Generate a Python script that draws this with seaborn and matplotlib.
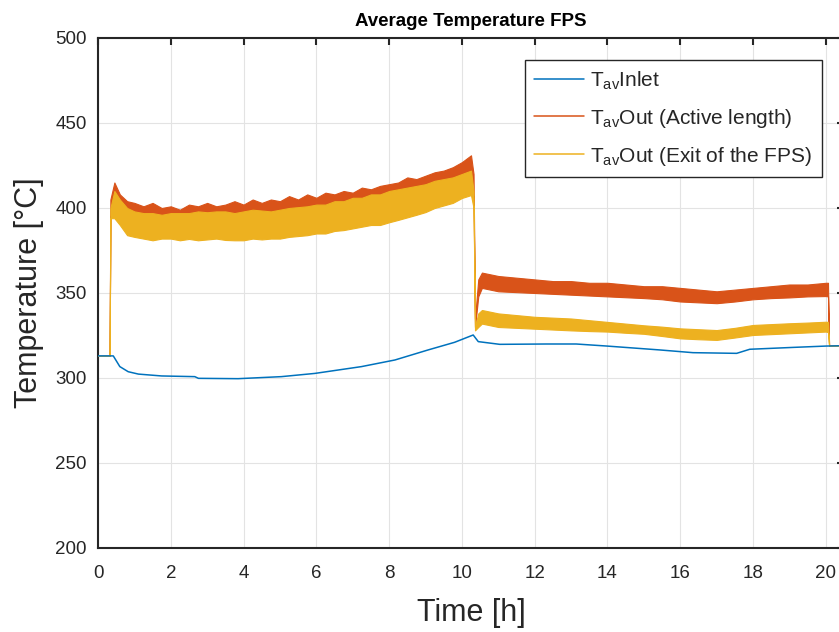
import numpy as np
import pandas as pd
import matplotlib
matplotlib.use("Agg")
import matplotlib.pyplot as plt
from matplotlib.lines import Line2D
import seaborn as sns

# ---------------- data ----------------
t_inlet = [0, 0.42, 0.6, 0.83, 1.11, 1.75, 2.66, 2.76, 3.85, 5.04, 5.96, 7.24, 8.16,
           9.07, 9.8, 10.31, 10.45, 11.04, 12.32, 13.14, 13.98, 15.44, 16.35, 17.55,
           17.91, 19.1, 20.02, 20.5]
T_inlet = [313, 313, 306.7, 303.7, 302.3, 301.2, 300.8, 299.8, 299.6, 300.8, 302.7, 306.7,
           310.6, 316.5, 321.0, 325.3, 321.4, 319.8, 320.0, 320.0, 318.8, 316.5, 314.9,
           314.5, 316.9, 318.0, 318.8, 319.0]

t_out = [0, 0.32, 0.34, 0.45, 0.6, 0.8, 1.0, 1.25, 1.5, 1.75, 2, 2.25, 2.5, 2.75, 3,
         3.25, 3.5, 3.75, 4, 4.25, 4.5, 4.75, 5, 5.25, 5.5, 5.75, 6, 6.25, 6.5, 6.75,
         7, 7.25, 7.5, 7.75, 8, 8.25, 8.5, 8.75, 9, 9.25, 9.5, 9.75, 10, 10.25, 10.32,
         10.36, 10.45, 10.55, 11, 11.5, 12, 12.5, 13, 13.5, 14, 14.5, 15, 15.5, 16,
         16.5, 17, 17.5, 18, 18.5, 19, 19.5, 20, 20.06, 20.09, 20.5]
active_hi = [313, 313, 405, 415, 408, 404, 403, 401, 403, 400, 401, 399, 402, 401, 403,
             401, 402, 404, 402, 405, 403, 405, 404, 407, 405, 408, 406, 409, 408, 410,
             409, 412, 411, 413, 414, 415, 418, 417, 419, 421, 422, 424, 427, 431, 420,
             335, 358, 362, 360, 359, 358, 357, 357, 356, 356, 355, 354, 354, 353, 352,
             351, 352, 353, 354, 355, 355, 356, 356, 319, 319]
active_lo = [313, 313, 395, 400, 398, 394, 392, 391, 391, 391, 391, 391, 391, 391, 391,
             391, 391, 391, 392, 392, 393, 393, 393, 394, 395, 395, 396, 397, 398, 399,
             400, 401, 402, 403, 404, 405, 407, 408, 409, 410, 412, 413, 415, 417, 405,
             330, 348, 353, 351, 350.5, 350, 349.5, 349, 348.5, 348, 347.5, 347, 346.3,
             345, 344.5, 344, 345, 346.3, 347, 347.4, 348, 348.2, 348, 319, 319]
exit_hi = [313, 313, 400, 410, 405, 400, 398, 397, 397, 396, 397, 397, 397, 398, 397.5,
           398, 398, 397, 398, 399, 398.5, 398, 399, 400, 400.5, 401, 402, 402, 404,
           404, 406, 406, 408, 408, 410, 411, 412, 413, 414, 416, 417, 418, 420, 422,
           410, 330, 338, 340, 338, 337, 336, 335.5, 335, 334, 333, 332, 331, 330.2,
           329.2, 328.7, 328.2, 329.5, 331.2, 331.7, 332.2, 332.6, 333.1, 333, 319, 319]
exit_lo = [313, 313, 394, 394, 390, 384, 383, 382, 381, 382, 382, 381, 381.8, 381,
           381.5, 382, 381.2, 381, 381, 382, 381.5, 382, 382, 383, 383.5, 384, 385,
           385, 386.5, 387, 388, 389, 390, 390, 391.6, 393, 394.5, 396, 397.6, 400,
           401.5, 403, 405.9, 407.6, 400, 328, 330, 332, 330, 329.5, 329, 328.5, 328,
           327.6, 327.3, 326.6, 326, 324.7, 323.3, 322.8, 322.4, 323.8, 325.3, 325.8,
           326.3, 326.8, 327.3, 327, 319, 319]

labels = [r"T$_{\mathregular{av}}$Inlet",
          r"T$_{\mathregular{av}}$Out (Active length)",
          r"T$_{\mathregular{av}}$Out (Exit of the FPS)"]
colors = ["#0072BD", "#D95319", "#EDB120"]

x_ticks = [0, 2, 4, 6, 8, 10, 12, 14, 16, 18, 20]
y_ticks = [200, 250, 300, 350, 400, 450, 500]

# ---------------- style ----------------
sns.set_theme(style="white")
plt.rcParams["font.family"] = ["Liberation Sans", "DejaVu Sans"]
plt.rcParams["mathtext.default"] = "regular"
dark = "#262626"

fig = plt.figure(figsize=(8.39, 6.32), dpi=100)
ax = fig.add_axes([98 / 839, 1 - 548 / 632, 746 / 839, 510 / 632])

df_out = pd.DataFrame({"t": t_out, "a_lo": active_lo, "a_hi": active_hi,
                       "e_lo": exit_lo, "e_hi": exit_hi})
df_in = pd.DataFrame({"t": t_inlet, "T": T_inlet})

ax.fill_between(df_out["t"], df_out["a_lo"], df_out["a_hi"], color=colors[1],
                linewidth=0.8, edgecolor=colors[1], zorder=2)
ax.fill_between(df_out["t"], df_out["e_lo"], df_out["e_hi"], color=colors[2],
                linewidth=0.8, edgecolor=colors[2], zorder=3)
sns.lineplot(data=df_in, x="t", y="T", ax=ax, color=colors[0], linewidth=1.1,
             zorder=4, legend=False)

ax.set_xlim(0, 20.5)
ax.set_ylim(200, 500)
ax.set_xticks(x_ticks)
ax.set_yticks(y_ticks)
ax.grid(True, color="#e3e3e3", linewidth=0.8)
ax.set_axisbelow(True)

for side in ["left", "bottom", "top", "right"]:
    ax.spines[side].set_color(dark)
    ax.spines[side].set_linewidth(1.5)
ax.tick_params(direction="in", length=5, width=1.5, colors=dark, top=True,
               right=True, labelsize=13.5)
ax.tick_params(axis="x", pad=12)
ax.tick_params(axis="y", pad=8)

ax.set_xlabel("Time [h]", fontsize=22, color=dark, labelpad=12)
ax.set_ylabel("Temperature [°C]", fontsize=22, color=dark, labelpad=8)
ax.set_title("Average Temperature FPS", fontsize=13.5, fontweight="bold",
             color="black", pad=9)

handles = [Line2D([], [], color=c, linewidth=1.1) for c in colors]
leg = ax.legend(handles, labels, loc="upper right", bbox_to_anchor=(0.9705, 0.957),
                fontsize=15, frameon=True, fancybox=False, framealpha=1,
                edgecolor=dark, handlelength=2.4, handletextpad=0.3,
                borderpad=0.45, labelspacing=0.72, borderaxespad=0)
leg.get_frame().set_linewidth(1.0)

fig.savefig("out.png", dpi=100)
